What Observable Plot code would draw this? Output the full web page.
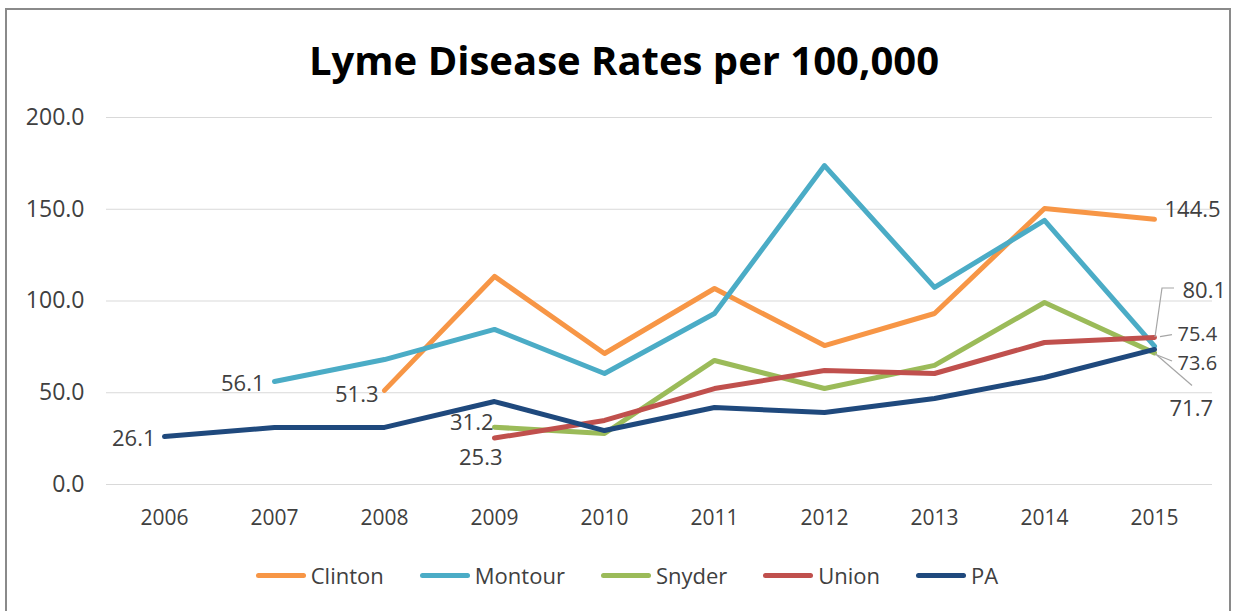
<!DOCTYPE html>
<html>
<head>
<meta charset="utf-8">
<script src="https://cdn.jsdelivr.net/npm/d3@7"></script>
<script src="https://cdn.jsdelivr.net/npm/@observablehq/plot@0.6"></script>
<style>
  html, body { margin: 0; padding: 0; background: #fff; }
  #wrap { position: relative; width: 1238px; height: 611px; overflow: hidden; font-family: "Open Sans", sans-serif; }
  #frame { position: absolute; left: 5px; top: 8px; width: 1226px; height: 640px; border: 2px solid #8a8a8a; box-sizing: border-box; }
  #title { position: relative; height: 60px; padding-top: 40px; line-height: 40px; font-size: 40px; font-weight: 700; color: #000; text-align: center; padding-left: 10px; }
  #chart svg { display: block; }
  #legend { display: flex; justify-content: center; align-items: center; height: 50px; padding-left: 16px; font-size: 22px; color: #404040; }
  .item { display: flex; align-items: center; margin: 0 18px; }
  .sw { width: 50px; height: 5px; border-radius: 3px; margin-right: 5px; }
</style>
</head>
<body>
<div id="wrap">
  <div id="frame"></div>
  <div id="title">Lyme Disease Rates per 100,000</div>
  <div id="chart"></div>
  <div id="legend"></div>
</div>
<script>
const years = [2006, 2007, 2008, 2009, 2010, 2011, 2012, 2013, 2014, 2015];
const seriesNames = ["Clinton", "Montour", "Snyder", "Union", "PA"];
const seriesColors = ["#F79646", "#4BACC6", "#9BBB59", "#C0504D", "#1F497D"];
const clinton = [null, null, 51.3, 113.4, 71.4, 106.8, 75.7, 93.2, 150.4, 144.5];
const montour = [null, 56.1, 68.1, 84.5, 60.5, 93.2, 173.8, 107.4, 143.9, 75.4];
const snyder  = [null, null, null, 31.2, 27.8, 67.6, 52.3, 64.9, 99.2, 71.7];
const union   = [null, null, null, 25.3, 34.9, 52.3, 62.1, 60.5, 77.4, 80.1];
const pa      = [26.1, 31.1, 31.1, 45.2, 29.4, 42.0, 39.2, 46.9, 58.3, 73.6];
const yTicks = [0, 50, 100, 150, 200];

const seriesValues = [clinton, montour, snyder, union, pa];
const rows = [];
seriesNames.forEach((name, i) => {
  years.forEach((yr, j) => {
    const v = seriesValues[i][j];
    if (v != null) rows.push({series: name, year: yr, value: v});
  });
});
const firstOf = name => rows.filter(d => d.series === name)[0];
const lastOf = name => rows.filter(d => d.series === name).slice(-1)[0];

const labelFont = {fontSize: 22, fill: "#404040", fontFamily: "Open Sans"};
const lbl = (d, opts) => Plot.text([d], {x: "year", y: "value", text: d => d.value.toFixed(1), ...labelFont, ...opts});

// leader lines for right-end labels: [series, pixel offsets from the data point]
const leaders = [
  ["Union", [[1, 0], [8, -49], [20, -49]]],
  ["Montour", [[6, -9], [18, -11]]],
  ["PA", [[3, 6], [18, 12]]],
  ["Snyder", [[1, 1], [38, 33]]]
];

const leaderMark = (index, scales) => {
  const g = d3.create("svg:g").attr("fill", "none").attr("stroke", "#a6a6a6").attr("stroke-width", 1.2);
  for (const [name, pts] of leaders) {
    const d = lastOf(name);
    const px = scales.x(d.year), py = scales.y(d.value);
    g.append("path").attr("d", "M" + pts.map(([dx, dy]) => (px + dx) + "," + (py + dy)).join("L"));
  }
  return g.node();
};

const plot = Plot.plot({
  width: 1238,
  height: 450,
  marginTop: 17,
  marginBottom: 66,
  marginLeft: 106,
  marginRight: 26,
  style: {fontFamily: "Open Sans", fontSize: "21px", color: "#404040", background: "transparent"},
  x: {type: "point", domain: years, padding: 0.5, label: null},
  y: {domain: [0, 200], label: null},
  marks: [
    Plot.gridY(yTicks, {stroke: "#d9d9d9", strokeOpacity: 1, strokeWidth: 1.2}),
    Plot.axisY(yTicks, {tickSize: 0, tickPadding: 22, tickFormat: d => d.toFixed(1), fontSize: 23, label: null}),
    Plot.axisX(years, {tickSize: 0, tickPadding: 26, tickFormat: d => String(d), fontSize: 21, label: null}),
    ...seriesNames.map((name, i) => Plot.line(rows.filter(d => d.series === name), {
      x: "year", y: "value", stroke: seriesColors[i], strokeWidth: 5, strokeLinejoin: "round", strokeLinecap: "round"
    })),
    leaderMark,
    lbl(firstOf("PA"), {textAnchor: "end", dx: -9, dy: 2}),
    lbl(firstOf("Montour"), {textAnchor: "end", dx: -10, dy: 2}),
    lbl(firstOf("Clinton"), {textAnchor: "end", dx: -6, dy: 5}),
    lbl(firstOf("Snyder"), {textAnchor: "end", dx: -1, dy: -4}),
    lbl(firstOf("Union"), {textAnchor: "end", dx: 8, dy: 20}),
    lbl(lastOf("Clinton"), {textAnchor: "start", dx: 10, dy: -9}),
    lbl(lastOf("Union"), {textAnchor: "start", dx: 28, dy: -47}),
    lbl(lastOf("Montour"), {textAnchor: "start", dx: 23, dy: -12, fontSize: 20}),
    lbl(lastOf("PA"), {textAnchor: "start", dx: 23, dy: 14, fontSize: 20}),
    lbl(lastOf("Snyder"), {textAnchor: "start", dx: 15, dy: 56})
  ]
});
document.getElementById("chart").appendChild(plot);

const legend = document.getElementById("legend");
seriesNames.forEach((name, i) => {
  const it = document.createElement("div");
  it.className = "item";
  const sw = document.createElement("div");
  sw.className = "sw";
  sw.style.background = seriesColors[i];
  const tx = document.createElement("span");
  tx.textContent = name;
  it.appendChild(sw);
  it.appendChild(tx);
  legend.appendChild(it);
});
</script>
</body>
</html>
